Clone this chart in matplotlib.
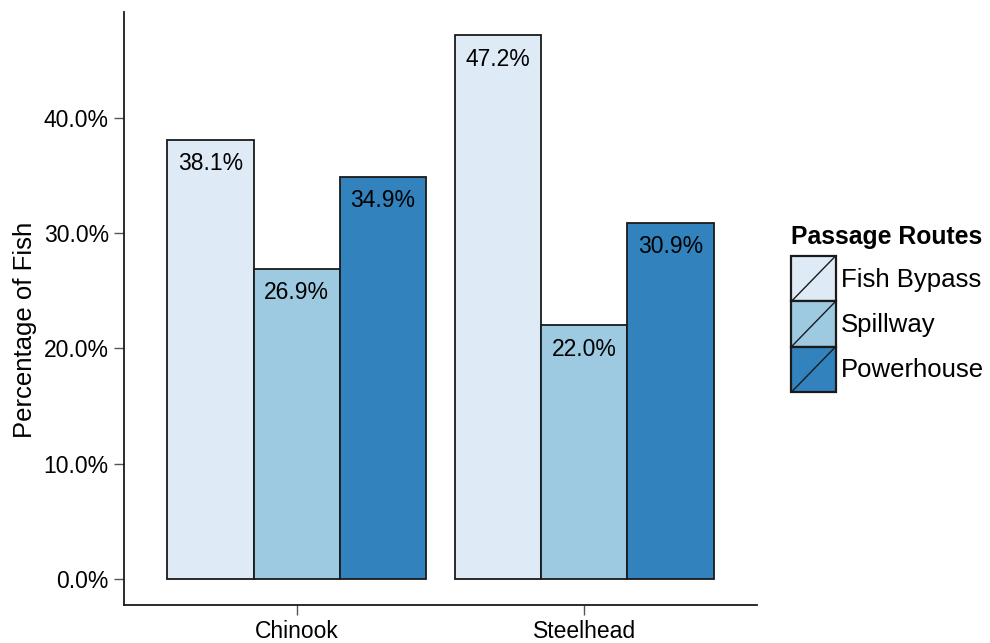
import numpy as np
import matplotlib
matplotlib.use('Agg')
import matplotlib.pyplot as plt
from matplotlib.patches import Rectangle
from matplotlib.lines import Line2D
from matplotlib.legend_handler import HandlerBase
from matplotlib.ticker import FuncFormatter

# passage route percentages per species
species = ['Chinook', 'Steelhead']
routes = ['Fish Bypass', 'Spillway', 'Powerhouse']
fish_bypass = [38.1, 47.2]
spillway = [26.9, 22.0]
powerhouse = [34.9, 30.9]
route_colors = ['#DEEBF7', '#9ECAE1', '#3182BD']

plt.rcParams['font.family'] = ['Liberation Sans', 'DejaVu Sans']


class SlashKey(HandlerBase):
    # filled box with a diagonal line, like a ggplot legend key
    def create_artists(self, legend, orig_handle, xdescent, ydescent,
                       width, height, fontsize, trans):
        box = Rectangle((-xdescent, -ydescent), width, height,
                        facecolor=orig_handle.get_facecolor(),
                        edgecolor='#1a1a1a', linewidth=1.6, transform=trans)
        line = Line2D([-xdescent, -xdescent + width], [-ydescent, -ydescent + height],
                      color='#1a1a1a', linewidth=1.0, transform=trans)
        return [box, line]


fig = plt.figure(figsize=(9.9, 6.43), dpi=100)
ax = fig.add_axes([0.1253, 0.0591, 0.6393, 0.9222])

x = np.arange(1, len(species) + 1)
width = 0.3
handles = []
for i, (vals, col) in enumerate(zip([fish_bypass, spillway, powerhouse], route_colors)):
    pos = x + (i - 1) * width
    bars = ax.bar(pos, vals, width, color=col, edgecolor='#1a1a1a', linewidth=1.3)
    handles.append(bars[0])
    for p, v in zip(pos, vals):
        ax.annotate('%.1f%%' % v, (p, v), xytext=(0, -9), textcoords='offset points',
                    ha='center', va='top', fontsize=16.5, color='black')

ax.set_xlim(0.4, 2.6)
ax.set_ylim(-2.26, 49.2)
ax.set_xticks(x)
ax.set_xticklabels(species, fontsize=16.5)
ax.set_yticks([0, 10, 20, 30, 40])
ax.yaxis.set_major_formatter(FuncFormatter(lambda v, p: '%.1f%%' % v))
ax.tick_params(axis='y', labelsize=16.5, length=7, color='#555555', width=1, pad=4)
ax.tick_params(axis='x', length=7, color='#555555', width=1)
ax.set_ylabel('Percentage of Fish', fontsize=18.5)
ax.yaxis.set_label_coords(-0.137, 0.464)

for s in ['top', 'right']:
    ax.spines[s].set_visible(False)
for s in ['left', 'bottom']:
    ax.spines[s].set_linewidth(1.3)
    ax.spines[s].set_color('#1a1a1a')

leg = fig.legend(handles, routes, handler_map={h: SlashKey() for h in handles},
                 title='Passage Routes', loc='upper left', bbox_to_anchor=(0.789, 0.666),
                 frameon=False, fontsize=18.5, handlelength=1.72, handleheight=2.34,
                 handletextpad=0.2, labelspacing=0.0, borderaxespad=0)
leg.get_title().set_fontweight('bold')
leg.get_title().set_fontsize(17.8)
leg._legend_box.align = 'left'
leg._legend_box.sep = 5

fig.savefig('out.png', dpi=100)
